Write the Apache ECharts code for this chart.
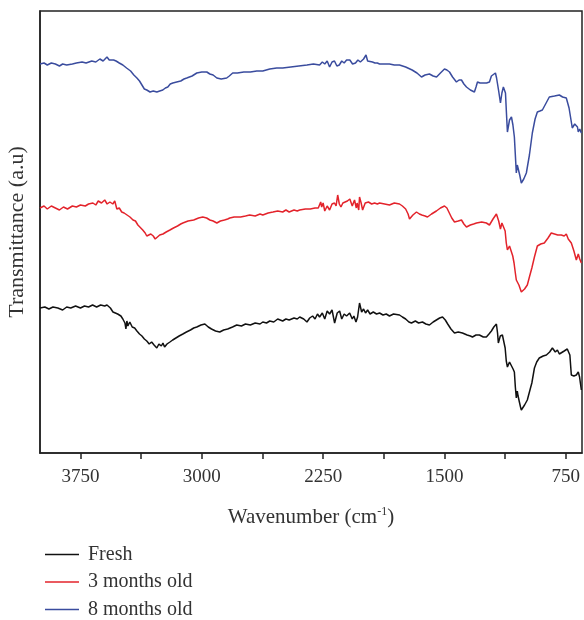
<!DOCTYPE html>
<html>
<head>
<meta charset="utf-8">
<title>FTIR</title>
<script src="https://cdn.jsdelivr.net/npm/echarts@6/dist/echarts.min.js"></script>
<style>
  html, body { margin: 0; padding: 0; background: #fff; }
  #chart { width: 584px; height: 620px; }
</style>
</head>
<body>
<div id="chart"></div>
<script>
  //  series names
  var seriesNames = ['Fresh', '3 months old', '8 months old'];
  var seriesColors = ['#111111', '#e3232b', '#3a4c9e'];

  //  x axis ticks (cm-1)
  var tickValues = [750, 1125, 1500, 1875, 2250, 2625, 3000, 3375, 3750];
  var labelValues = [750, 1500, 2250, 3000, 3750];

  //  [wavenumber, transmittance (a.u)]
  var fresh = [
    [4000, 145], [3970, 146], [3945, 144], [3920, 146], [3890, 145], [3860, 143], [3835, 146],
    [3810, 145], [3780, 147], [3750, 145], [3725, 147], [3700, 146], [3675, 148], [3650, 146],
    [3625, 148], [3600, 147], [3586, 148], [3565, 145], [3549, 141], [3520, 139], [3500, 137],
    [3488, 134], [3475, 130], [3469, 124], [3463, 132], [3457, 127], [3445, 131], [3430, 126],
    [3415, 125], [3401, 122], [3385, 119], [3370, 117], [3355, 114], [3340, 112], [3325, 109],
    [3310, 111], [3295, 108], [3278, 105], [3265, 109], [3250, 107], [3240, 110], [3230, 106],
    [3215, 109], [3197, 111], [3180, 113], [3160, 115], [3140, 117], [3117, 119], [3095, 121],
    [3070, 123], [3050, 125], [3031, 126], [3005, 128], [2981, 129], [2960, 126], [2940, 124],
    [2915, 122], [2889, 121], [2865, 123], [2840, 124], [2810, 126], [2784, 128], [2755, 127],
    [2730, 129], [2700, 128], [2670, 130], [2640, 129], [2623, 131], [2600, 130], [2580, 132],
    [2555, 131], [2531, 134], [2500, 132], [2480, 134], [2460, 133], [2430, 135], [2410, 134],
    [2395, 136], [2370, 134], [2350, 131], [2333, 135], [2315, 137], [2300, 134], [2285, 139],
    [2272, 136], [2255, 140], [2240, 134], [2225, 142], [2210, 139], [2195, 143], [2179, 130],
    [2163, 140], [2148, 142], [2135, 134], [2120, 139], [2105, 137], [2086, 140], [2070, 134],
    [2060, 137], [2047, 131], [2037, 136], [2025, 150], [2012, 141], [2000, 144], [1988, 140],
    [1975, 143], [1960, 139], [1940, 141], [1920, 139], [1901, 140], [1880, 138], [1860, 139],
    [1840, 137], [1815, 139], [1778, 138], [1760, 136], [1740, 134], [1720, 131], [1704, 130],
    [1680, 132], [1660, 130], [1636, 131], [1615, 129], [1593, 128], [1570, 131], [1550, 133],
    [1530, 135], [1512, 136], [1495, 133], [1480, 129], [1460, 124], [1438, 120], [1415, 121],
    [1389, 120], [1360, 118], [1340, 117], [1327, 116], [1305, 118], [1284, 118], [1260, 116],
    [1241, 116], [1225, 119], [1210, 122], [1195, 126], [1179, 129], [1172, 120], [1167, 110],
    [1155, 117], [1142, 118], [1125, 105], [1118, 92], [1111, 86], [1098, 91], [1086, 90],
    [1076, 84], [1068, 81], [1062, 66], [1056, 55], [1050, 62], [1045, 57], [1037, 51],
    [1030, 46], [1025, 43], [1005, 48], [988, 53], [970, 64], [960, 70], [944, 85],
    [930, 91], [914, 95], [890, 97], [870, 98], [850, 101], [833, 105], [815, 101],
    [802, 103], [790, 99], [778, 100], [760, 102], [741, 104], [725, 98], [716, 78],
    [700, 77], [685, 78], [673, 81], [665, 76], [660, 70], [654, 63]
  ];
  var months3 = [
    [4000, 245], [3975, 247], [3955, 244], [3930, 247], [3905, 245], [3880, 243], [3855, 246],
    [3830, 244], [3800, 247], [3775, 246], [3750, 248], [3720, 247], [3700, 249], [3673, 250],
    [3655, 248], [3640, 252], [3620, 250], [3600, 253], [3585, 249], [3568, 251], [3550, 249],
    [3538, 252], [3525, 244], [3510, 245], [3495, 241], [3480, 240], [3462, 238], [3444, 236],
    [3425, 233], [3410, 232], [3395, 228], [3383, 226], [3365, 223], [3350, 220], [3340, 217],
    [3333, 215], [3315, 219], [3300, 217], [3288, 214], [3278, 216], [3260, 218], [3240, 219],
    [3220, 221], [3197, 223], [3175, 225], [3150, 227], [3130, 229], [3117, 230], [3085, 232],
    [3050, 233], [3020, 235], [2994, 236], [2970, 235], [2950, 233], [2930, 232], [2907, 230],
    [2885, 232], [2860, 233], [2840, 234], [2827, 235], [2800, 236], [2760, 236], [2730, 237],
    [2704, 238], [2670, 237], [2640, 239], [2623, 238], [2590, 240], [2560, 241], [2531, 242],
    [2500, 241], [2480, 243], [2460, 241], [2430, 243], [2410, 242], [2395, 243], [2360, 244],
    [2330, 244], [2300, 245], [2280, 245], [2272, 246], [2265, 251], [2259, 246], [2250, 250],
    [2240, 242], [2225, 247], [2210, 243], [2195, 249], [2180, 250], [2170, 247], [2160, 258],
    [2150, 249], [2140, 246], [2128, 250], [2117, 248], [2100, 252], [2085, 254], [2070, 247],
    [2056, 253], [2045, 245], [2040, 250], [2030, 243], [2025, 256], [2015, 250], [2006, 243],
    [1990, 250], [1970, 251], [1950, 249], [1932, 250], [1915, 249], [1901, 250], [1870, 249],
    [1840, 248], [1810, 250], [1778, 249], [1760, 247], [1740, 244], [1725, 239], [1716, 234],
    [1695, 238], [1673, 241], [1655, 239], [1640, 238], [1620, 237], [1605, 236], [1580, 239],
    [1550, 242], [1525, 245], [1500, 247], [1485, 245], [1470, 240], [1455, 235], [1438, 231],
    [1415, 232], [1395, 233], [1380, 229], [1364, 226], [1340, 228], [1320, 229], [1302, 230],
    [1270, 231], [1241, 230], [1222, 228], [1200, 234], [1179, 239], [1165, 232], [1154, 224],
    [1145, 230], [1136, 231], [1125, 222], [1118, 210], [1111, 203], [1098, 207], [1086, 206],
    [1078, 197], [1070, 190], [1062, 180], [1056, 173], [1049, 175], [1040, 168], [1025, 161],
    [1005, 164], [988, 168], [975, 176], [960, 185], [944, 196], [926, 207], [905, 209],
    [883, 210], [860, 215], [840, 220], [820, 219], [800, 218], [778, 218], [760, 217],
    [747, 219], [735, 214], [730, 215], [716, 210], [700, 202], [685, 193], [673, 199],
    [664, 194], [654, 190]
  ];
  var months8 = [
    [4000, 389], [3975, 390], [3955, 388], [3930, 390], [3905, 389], [3880, 387], [3860, 389],
    [3835, 388], [3800, 389], [3775, 390], [3740, 391], [3715, 390], [3680, 392], [3655, 391],
    [3630, 394], [3610, 392], [3586, 396], [3572, 393], [3560, 395], [3545, 393], [3530, 392],
    [3510, 390], [3488, 388], [3465, 385], [3440, 382], [3420, 378], [3401, 375], [3385, 372],
    [3370, 368], [3355, 364], [3340, 363], [3320, 361], [3300, 362], [3290, 360], [3278, 361],
    [3260, 362], [3241, 363], [3225, 365], [3210, 366], [3195, 369], [3179, 370], [3155, 371],
    [3130, 372], [3110, 374], [3093, 375], [3060, 377], [3031, 380], [3000, 381], [2969, 381],
    [2950, 379], [2930, 378], [2907, 375], [2880, 374], [2846, 375], [2830, 377], [2809, 380],
    [2780, 380], [2740, 381], [2700, 381], [2660, 382], [2623, 382], [2580, 384], [2537, 385],
    [2500, 385], [2450, 386], [2400, 387], [2350, 388], [2310, 389], [2272, 388], [2255, 391],
    [2240, 389], [2225, 392], [2210, 386], [2195, 391], [2180, 392], [2165, 387], [2150, 388],
    [2135, 392], [2120, 390], [2105, 393], [2085, 393], [2068, 389], [2050, 390], [2035, 393],
    [2020, 391], [2000, 394], [1992, 392], [1985, 398], [1975, 392], [1963, 393], [1945, 391],
    [1930, 390], [1915, 390], [1901, 389], [1870, 389], [1840, 389], [1810, 388], [1778, 388],
    [1740, 386], [1700, 383], [1670, 380], [1642, 376], [1620, 378], [1593, 379], [1570, 377],
    [1549, 376], [1525, 380], [1500, 384], [1485, 383], [1469, 381], [1450, 376], [1426, 371],
    [1410, 373], [1395, 373], [1380, 369], [1364, 366], [1340, 363], [1315, 361], [1305, 366],
    [1296, 371], [1280, 370], [1265, 370], [1240, 370], [1222, 371], [1210, 377], [1185, 380],
    [1178, 375], [1173, 370], [1165, 362], [1154, 350], [1145, 360], [1136, 366], [1128, 364],
    [1123, 360], [1117, 340], [1111, 321], [1098, 333], [1086, 336], [1077, 328], [1068, 316],
    [1062, 298], [1056, 280], [1050, 288], [1043, 290], [1035, 278], [1025, 270], [1010, 274],
    [994, 280], [975, 298], [957, 320], [940, 334], [926, 341], [910, 342], [895, 343],
    [875, 349], [852, 356], [820, 357], [790, 358], [770, 356], [747, 355], [730, 345],
    [710, 325], [695, 329], [685, 331], [678, 326], [673, 321], [664, 324], [654, 320]
  ];

  var seriesData = [fresh, months3, months8];
  var font = 'Liberation Serif';

  var chart = echarts.init(document.getElementById('chart'), null, { renderer: 'canvas' });

  var series = seriesData.map(function (data, i) {
    return {
      name: seriesNames[i],
      type: 'line',
      data: data,
      symbol: 'none',
      smooth: false,
      lineStyle: { color: seriesColors[i], width: 1.5 },
      itemStyle: { color: seriesColors[i] },
      animation: false
    };
  });

  chart.setOption({
    backgroundColor: '#fff',
    animation: false,
    grid: {
      left: 40,
      right: 2,
      top: 11,
      bottom: 167,
      outerBoundsMode: 'none',
      containLabel: false,
      show: true,
      borderColor: '#222',
      borderWidth: 1.5
    },
    legend: {
      orient: 'vertical',
      left: 40,
      top: 539,
      height: 100,
      icon: 'rect',
      itemWidth: 34,
      itemHeight: 1.5,
      itemGap: 6.5,
      data: seriesNames,
      textStyle: { fontFamily: font, fontSize: 20, color: '#333', lineHeight: 21, padding: [0, 0, 0, 4] }
    },
    xAxis: {
      type: 'value',
      inverse: true,
      min: 650,
      max: 4000,
      name: 'Wavenumber (cm{sup|-1})',
      nameLocation: 'middle',
      nameGap: 53,
      nameTextStyle: {
        fontFamily: font, fontSize: 21, color: '#333',
        rich: { sup: { fontFamily: font, fontSize: 12, color: '#333', verticalAlign: 'top', padding: [0, 0, 11, 0] } }
      },
      axisLine: { show: true, lineStyle: { color: '#222', width: 1.5 } },
      axisTick: { show: true, inside: false, length: 6, customValues: tickValues, lineStyle: { color: '#222', width: 1.5 } },
      axisLabel: {
        customValues: labelValues, margin: 15, fontFamily: font, fontSize: 19, color: '#333',
        formatter: function (v) { return String(v); }
      },
      splitLine: { show: false }
    },
    yAxis: {
      type: 'value',
      min: 0,
      max: 442,
      name: 'Transmittance (a.u)',
      nameLocation: 'middle',
      nameGap: 12,
      nameTextStyle: { fontFamily: font, fontSize: 22, color: '#333' },
      axisLine: { show: true, lineStyle: { color: '#222', width: 1.5 } },
      axisTick: { show: false },
      axisLabel: { show: false },
      splitLine: { show: false }
    },
    series: series
  });
</script>
</body>
</html>
